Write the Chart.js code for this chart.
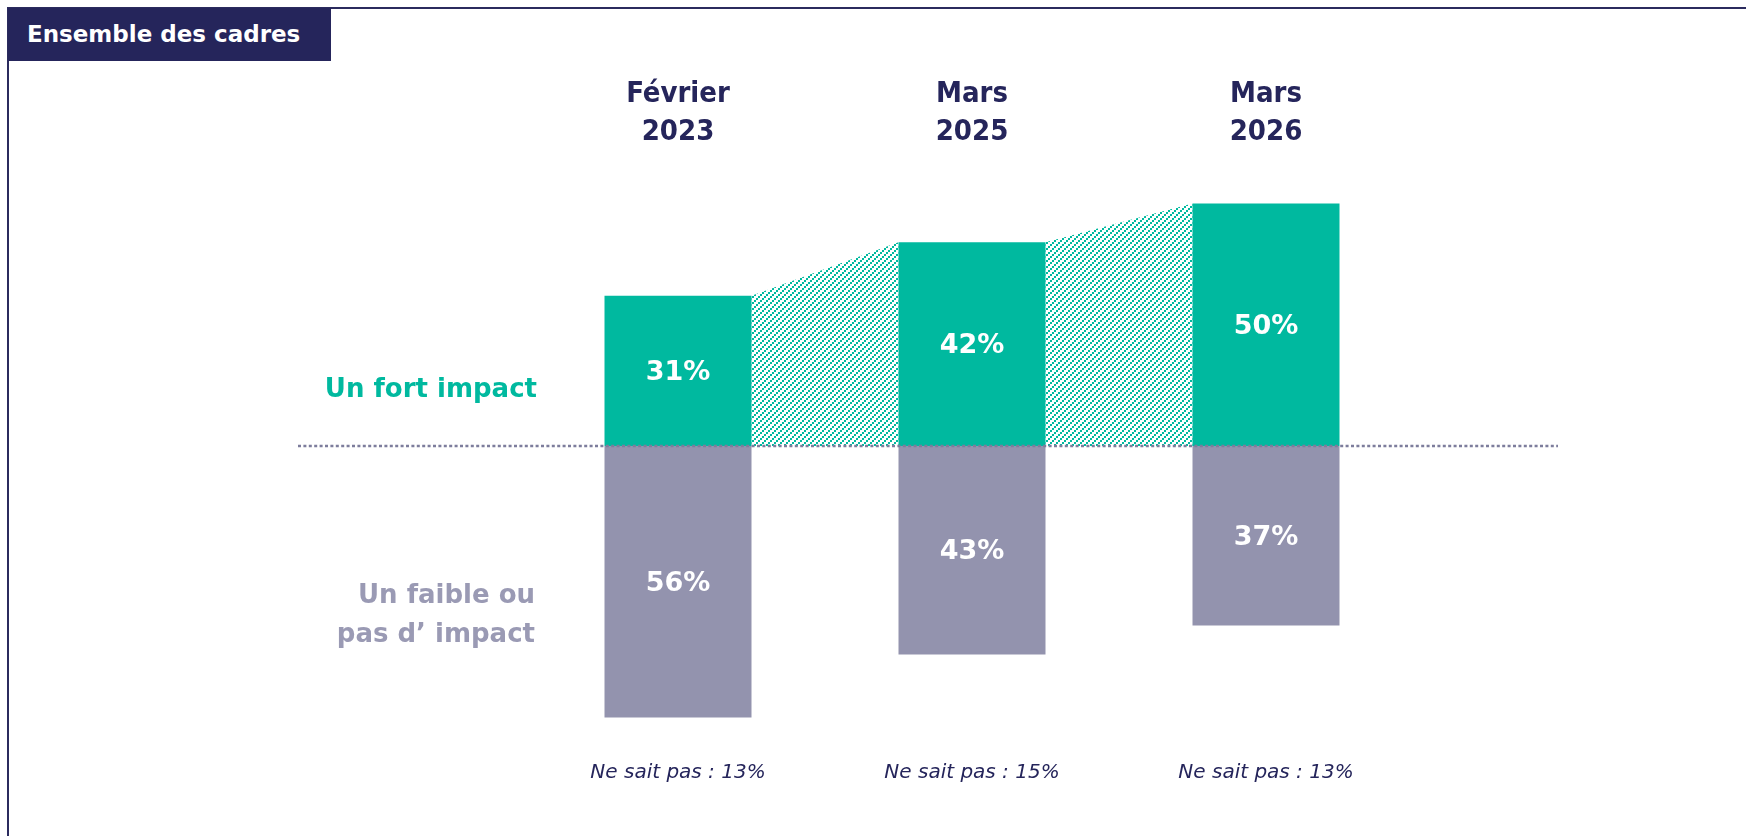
<!DOCTYPE html>
<html>
<head>
<meta charset="utf-8">
<script src="https://cdn.jsdelivr.net/npm/chart.js@4/dist/chart.umd.min.js"></script>
<style>
  html, body { margin: 0; padding: 0; background: #fff; }
  #wrap { position: relative; width: 1746px; height: 836px; overflow: hidden; }
  #frame { position: absolute; left: 7px; top: 7px; right: -10px; bottom: -10px;
           border-top: 2px solid #2b2b5e; border-left: 2px solid #2b2b5e; }
  #title { position: absolute; left: 8px; top: 8px; width: 323px; height: 53px;
           background: #25255b; color: #fff; font-family: "DejaVu Sans", sans-serif;
           font-weight: bold; font-size: 23px; line-height: 53px; padding-left: 19px; box-sizing: border-box; }
  canvas { position: absolute; left: 0; top: 0; }
</style>
</head>
<body>
<div id="wrap">
  <div id="frame"></div>
  <div id="title">Ensemble des cadres</div>
  <canvas id="c" width="1746" height="836"></canvas>
</div>
<script>
// ---- data ----
const categories = [["Février", "2023"], ["Mars", "2025"], ["Mars", "2026"]];
const fortImpact = [31, 42, 50];
const faibleImpact = [56, 43, 37];
const neSaitPas = [13, 15, 13];
const fortLabel = "Un fort impact";
const faibleLabel = ["Un faible ou", "pas d’ impact"];

// ---- styles ----
const GREEN = "#00b99f";
const GREY = "#9393ae";
const GREY_TEXT = "#9a9ab4";
const NAVY = "#25255b";

function makeHatch() {
  const s = 6;
  const p = document.createElement("canvas");
  p.width = s; p.height = s;
  const g = p.getContext("2d");
  g.fillStyle = GREEN;
  g.fillRect(0, 4, 2, 2);
  g.fillRect(2, 2, 2, 2);
  g.fillRect(4, 0, 2, 2);
  return p;
}

const ctx = document.getElementById("c").getContext("2d");
const hatch = ctx.createPattern(makeHatch(), "repeat");

const customPlugin = {
  id: "custom",
  beforeDatasetsDraw(chart) {
    const c = chart.ctx;
    const meta = chart.getDatasetMeta(0);
    c.save();
    c.fillStyle = hatch;
    for (let i = 0; i < meta.data.length - 1; i++) {
      const a = meta.data[i], b = meta.data[i + 1];
      const ar = a.x + a.width / 2, bl = b.x - b.width / 2;
      c.beginPath();
      c.moveTo(ar, a.base);
      c.lineTo(ar, a.y);
      c.lineTo(bl, b.y);
      c.lineTo(bl, b.base);
      c.closePath();
      c.fill();
    }
    c.restore();
  },
  afterDatasetsDraw(chart) {
    const c = chart.ctx;
    const y0 = chart.scales.y.getPixelForValue(0);
    c.save();
    // value labels
    c.fillStyle = "#fff";
    c.font = "bold 27px 'DejaVu Sans', sans-serif";
    c.textAlign = "center";
    c.textBaseline = "middle";
    chart.data.datasets.forEach((ds, di) => {
      const meta = chart.getDatasetMeta(di);
      meta.data.forEach((el, i) => {
        const v = Math.abs(ds.data[i]);
        c.fillText(v + "%", el.x, (el.y + el.base) / 2 + 2);
      });
    });
    // dotted zero line
    c.strokeStyle = "#7d7d9c";
    c.lineWidth = 2.5;
    c.setLineDash([3, 2.4]);
    c.beginPath();
    c.moveTo(298, y0);
    c.lineTo(1558, y0);
    c.stroke();
    c.setLineDash([]);
    // series labels on the left
    c.textAlign = "right";
    c.font = "bold 26px 'DejaVu Sans', sans-serif";
    c.fillStyle = GREEN;
    c.fillText(fortLabel, 537, y0 - 56);
    c.fillStyle = GREY_TEXT;
    c.fillText(faibleLabel[0], 535, y0 + 150);
    c.fillText(faibleLabel[1], 535, y0 + 189);
    c.restore();
  }
};

new Chart(ctx, {
  type: "bar",
  data: {
    labels: categories,
    datasets: [
      { label: fortLabel, data: fortImpact, backgroundColor: GREEN,
        barPercentage: 1, categoryPercentage: 0.5 },
      { label: faibleLabel.join(" "), data: faibleImpact.map(v => -v), backgroundColor: GREY,
        barPercentage: 1, categoryPercentage: 0.5 }
    ]
  },
  options: {
    responsive: false,
    animation: false,
    layout: { padding: { left: 531, right: 333, top: 0, bottom: 0 } },
    plugins: { legend: { display: false }, tooltip: { enabled: false } },
    scales: {
      x: {
        position: "top", stacked: true,
        grid: { display: false }, border: { display: false },
        ticks: { color: NAVY, padding: -4,
                 font: { family: "'DejaVu Sans Condensed', 'DejaVu Sans', sans-serif", weight: "bold", size: 29, lineHeight: 1.3 } },
        afterFit(s) { s.height = 155; }
      },
      x2: {
        type: "category", position: "bottom",
        labels: neSaitPas.map(v => "Ne sait pas : " + v + "%"),
        grid: { display: false }, border: { display: false },
        ticks: { color: NAVY, padding: 16,
                 font: { family: "'DejaVu Sans', sans-serif", style: "italic", size: 20 } },
        afterFit(s) { s.height = 99; }
      },
      y: {
        display: false, stacked: true, min: -60, max: 60
      }
    }
  },
  plugins: [customPlugin]
});
</script>
</body>
</html>
